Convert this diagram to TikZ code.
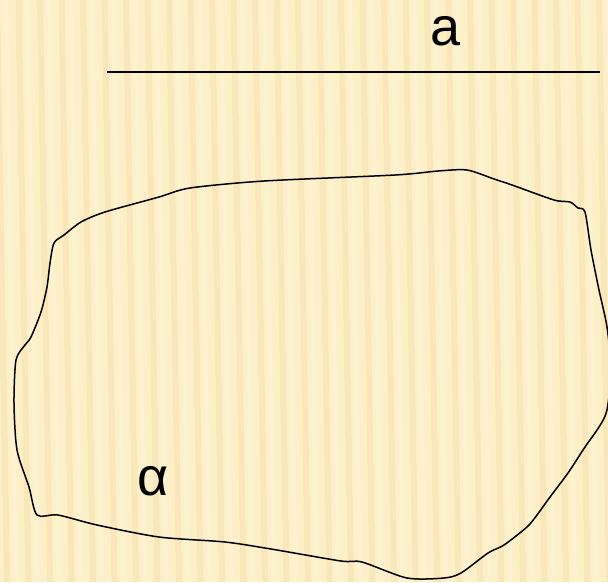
\documentclass[tikz,border=0pt]{standalone}
\usepackage{fontspec}
\setmainfont{Liberation Sans}
\definecolor{bg}{HTML}{FDF0C8}
\definecolor{stripe}{HTML}{F1DCA4}
\definecolor{hilite}{HTML}{FFF7DE}
\tikzset{
  outline/.style={draw=black, line width=1.5pt, line join=round},
  lineA/.style={draw=black, line width=2pt},
  lbl/.style={inner sep=0pt, anchor=base, font=\fontsize{54}{54}\selectfont},
}
\begin{document}
\begin{tikzpicture}[x=1pt,y=-1pt]
\useasboundingbox (0,0) rectangle (608,582);
\begin{scope}
\clip (0,0) rectangle (608,582);
\fill[bg] (0,0) rectangle (608,582);
\foreach \i in {0,...,28}{
  \pgfmathsetmacro{\xx}{\i*21.5+4}
  \fill[stripe, opacity=0.4] (\xx,582) -- (\xx+6,582) -- (\xx-4,0) -- (\xx-10,0) -- cycle;
  \fill[hilite, opacity=0.4] (\xx+9,582) -- (\xx+14,582) -- (\xx+4,0) -- (\xx-1,0) -- cycle;
}
\draw[outline] plot[smooth cycle, tension=0.45] coordinates {
(467,170) (494,179) (512,185) (554,200) (570,202) (578,208) (585,212) (591,250) (599,290) (607,327) (611,370) (607,410) (599,427) (585,447) (568,473) (550,497) (537,515) (527,527) (504,545) (488,553) (461,573) (444,578) (407,578) (362,562) (341,561) (271,549) (225,542) (159,537) (97,525) (58,515) (37,515) (29,487) (17,450) (14,403) (16,360) (25,345) (31,337) (41,312) (47,287) (50,263) (54,243) (64,235) (81,222) (105,212) (159,197) (190,188) (264,181) (395,175) (438,171)};
\end{scope}
\coordinate (aL) at (107,72);
\coordinate (aR) at (600,72);
\draw[lineA] (aL) -- (aR);
\node[lbl] (labA) at (445.5,45) {a};
\node[lbl] (labAlpha) at (153,495) {α};
\end{tikzpicture}
\end{document}
